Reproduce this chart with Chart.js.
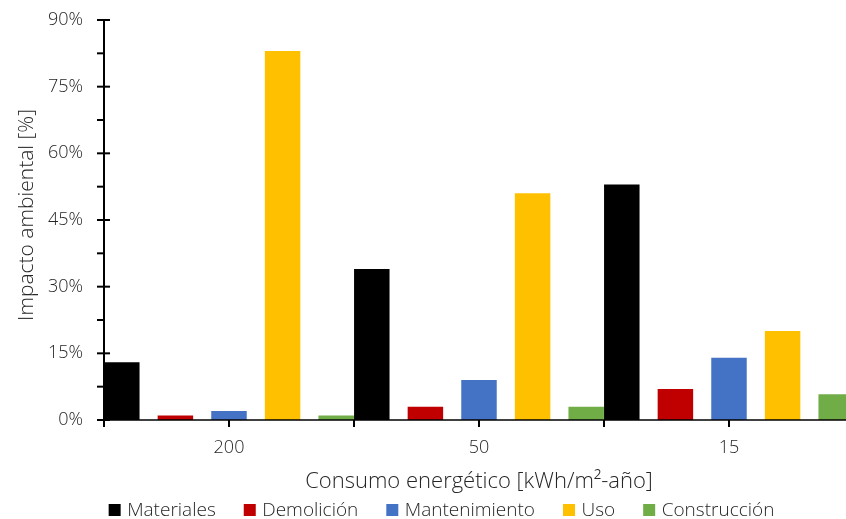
<!DOCTYPE html>
<html>
<head>
<meta charset="utf-8">
<script src="https://cdn.jsdelivr.net/npm/chart.js@4.4.1/dist/chart.umd.min.js"></script>
<style>
  html, body { margin: 0; padding: 0; background: #fff; overflow: hidden; }
  #wrap { width: 860px; height: 519px; }
</style>
</head>
<body>
<div id="wrap"><canvas id="c" width="860" height="519"></canvas></div>
<script>
// Consumption levels (kWh/m²-año) and the share of environmental impact per life-cycle stage
const categories = ['200', '50', '15'];
const materiales    = [13, 34, 53];
const demolicion    = [1, 3, 7];
const mantenimiento = [2, 9, 14];
const uso           = [83, 51, 20];
const construccion  = [1, 3, 5.8];

const seriesNames  = ['Materiales', 'Demolición', 'Mantenimiento', 'Uso', 'Construcción'];
const seriesValues = [materiales, demolicion, mantenimiento, uso, construccion];
const seriesColors = ['#000000', '#C00000', '#4472C4', '#FFC000', '#70AD47'];

const yTicks = [0, 15, 30, 45, 60, 75, 90];
const xTitle = 'Consumo energético [kWh/m²-año]';
const yTitle = 'Impacto ambiental [%]';

const FAMILY = '"Open Sans", sans-serif';
const TEXT = '#262626';

// Axis lines, tick marks, titles and legend
const decor = {
  id: 'decor',
  afterDatasetsDraw(chart) {
    const { ctx, chartArea: a, scales: { x, y } } = chart;
    ctx.save();
    ctx.strokeStyle = '#000';
    ctx.lineCap = 'butt';

    // y axis
    ctx.lineWidth = 2;
    ctx.beginPath();
    ctx.moveTo(a.left, y.getPixelForValue(90) - 1);
    ctx.lineTo(a.left, a.bottom);
    ctx.stroke();
    // major ticks cross the axis, minor ticks point outward
    yTicks.forEach(v => {
      const py = y.getPixelForValue(v);
      ctx.beginPath();
      ctx.moveTo(a.left - 7, py);
      ctx.lineTo(a.left + 6, py);
      ctx.stroke();
      if (v < 90) {
        const pm = y.getPixelForValue(v + 7.5);
        ctx.beginPath();
        ctx.moveTo(a.left - 7, pm);
        ctx.lineTo(a.left, pm);
        ctx.stroke();
      }
    });

    // x axis
    ctx.lineWidth = 1.5;
    ctx.beginPath();
    ctx.moveTo(a.left, a.bottom);
    ctx.lineTo(a.right, a.bottom);
    ctx.stroke();
    // ticks at category centres and boundaries
    ctx.lineWidth = 2;
    const half = (x.getPixelForValue(1) - x.getPixelForValue(0)) / 2;
    const tx = [];
    categories.forEach((c, i) => {
      const p = x.getPixelForValue(i);
      tx.push(p - half, p);
    });
    tx.push(x.getPixelForValue(categories.length - 1) + half);
    tx.forEach(p => {
      ctx.beginPath();
      ctx.moveTo(p, a.bottom);
      ctx.lineTo(p, a.bottom + 7);
      ctx.stroke();
    });

    // axis titles
    ctx.fillStyle = TEXT;
    ctx.textBaseline = 'alphabetic';
    ctx.textAlign = 'center';
    ctx.font = '300 22px ' + FAMILY;
    ctx.fillText(xTitle, (a.left + a.right) / 2, 488);
    ctx.font = '300 21px ' + FAMILY;
    ctx.save();
    ctx.translate(32.5, (a.top + a.bottom) / 2 - 5);
    ctx.rotate(-Math.PI / 2);
    ctx.fillText(yTitle, 0, 0);
    ctx.restore();

    // legend, one row centred under the plot
    ctx.font = '300 19px ' + FAMILY;
    ctx.textAlign = 'left';
    const box = 12, toText = 18.5, gap = 28;
    const widths = seriesNames.map(n => ctx.measureText(n).width);
    const total = widths.reduce((s, w) => s + box + toText - box + w + gap, 0) - gap;
    let lx = 441.5 - total / 2;
    const base = 515.5;
    seriesNames.forEach((name, i) => {
      ctx.fillStyle = seriesColors[i];
      ctx.fillRect(lx, base - 11.5, box, box);
      ctx.fillStyle = TEXT;
      ctx.fillText(name, lx + toText, base);
      lx += toText + widths[i] + gap;
    });
    ctx.restore();
  }
};

const tickFont = { family: FAMILY, weight: '300', size: 18 };

new Chart(document.getElementById('c'), {
  type: 'bar',
  data: {
    labels: categories,
    datasets: seriesNames.map((name, i) => ({
      label: name,
      data: seriesValues[i],
      backgroundColor: seriesColors[i],
      borderWidth: 0,
      categoryPercentage: 1.072,
      barPercentage: 0.662
    }))
  },
  options: {
    responsive: false,
    animation: false,
    layout: { padding: { top: 20, right: 6, left: 0, bottom: 0 } },
    plugins: { legend: { display: false }, tooltip: { enabled: false } },
    scales: {
      x: {
        grid: { display: false, drawTicks: false },
        border: { display: false },
        ticks: { color: TEXT, font: tickFont, padding: 17 },
        afterFit(s) { s.height = 99; s.paddingLeft = 0; s.paddingRight = 0; }
      },
      y: {
        min: 0, max: 90,
        afterBuildTicks(s) { s.ticks = yTicks.map(v => ({ value: v })); },
        grid: { display: false, drawTicks: false },
        border: { display: false },
        ticks: { color: TEXT, font: tickFont, padding: 21, callback: v => v + '%' },
        afterFit(s) { s.width = 104; s.paddingTop = 0; s.paddingBottom = 0; }
      }
    }
  },
  plugins: [decor]
});
</script>
</body>
</html>
